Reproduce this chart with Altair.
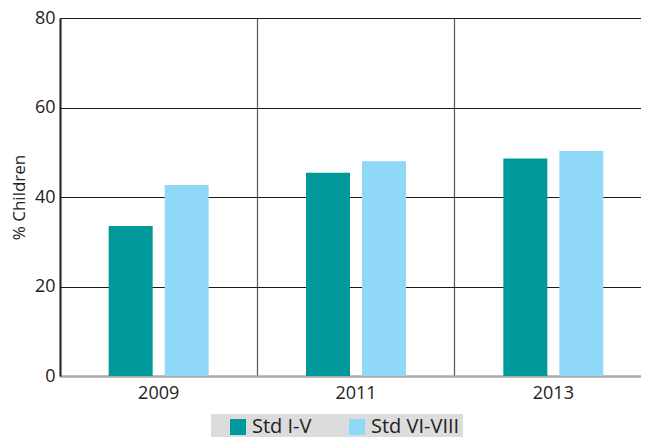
import altair as alt
import pandas as pd

years = ["2009", "2011", "2013"]
std_i_v = [33.5, 45.4, 48.6]
std_vi_viii = [42.7, 48.0, 50.3]
series_names = ["Std I-V", "Std VI-VIII"]
series_colors = ["#009999", "#8fd8f8"]
y_ticks = [0, 20, 40, 60, 80]

rows = []
for i, yr in enumerate(years):
    rows.append({"year": yr, "series": series_names[0], "value": std_i_v[i]})
    rows.append({"year": yr, "series": series_names[1], "value": std_vi_viii[i]})
df = pd.DataFrame(rows)

FONT = "Open Sans"

chart = alt.Chart(df).mark_bar(size=44).encode(
    x=alt.X(
        "year:N",
        sort=years,
        title=None,
        scale=alt.Scale(paddingInner=0, paddingOuter=0),
        axis=alt.Axis(
            labelAngle=0,
            labelFontSize=18,
            labelColor="#222222",
            labelFont=FONT,
            labelPadding=8,
            ticks=False,
            grid=True,
            bandPosition=0,
            gridColor="#555555",
            gridWidth=1.2,
            domainColor="#aaaaaa",
            domainWidth=2.5,
        ),
    ),
    xOffset=alt.XOffset(
        "series:N",
        sort=series_names,
        scale=alt.Scale(paddingInner=0.214, paddingOuter=0.869),
    ),
    y=alt.Y(
        "value:Q",
        title="% Children",
        scale=alt.Scale(domain=[0, 80], nice=False),
        axis=alt.Axis(
            values=y_ticks,
            labelFontSize=18,
            labelColor="#222222",
            labelFont=FONT,
            labelPadding=5,
            ticks=False,
            gridColor="#1a1a1a",
            gridWidth=1,
            domainColor="#222222",
            domainWidth=2,
            titleFont=FONT,
            titleFontSize=17,
            titleFontWeight="normal",
            titleColor="#222222",
            titlePadding=6,
        ),
    ),
    color=alt.Color(
        "series:N",
        sort=series_names,
        scale=alt.Scale(domain=series_names, range=series_colors),
        legend=alt.Legend(
            title=None,
            orient="none",
            legendX=151,
            legendY=396,
            direction="horizontal",
            fillColor="#dcdcdc",
            padding=3,
            symbolType="square",
            symbolSize=256,
            symbolStrokeWidth=0,
            symbolOpacity=1,
            symbolOffset=14,
            labelOffset=4,
            columnPadding=21,
            labelFont=FONT,
            labelFontSize=20,
            labelColor="#222222",
        ),
    ),
).properties(
    width=592,
    height=358,
    autosize=alt.AutoSizeParams(type="none"),
    padding={"left": 52, "top": 10, "right": -11, "bottom": 61},
).configure_view(
    stroke=None
)

chart.save("out.html", embed_options={"renderer": "svg", "actions": False})
